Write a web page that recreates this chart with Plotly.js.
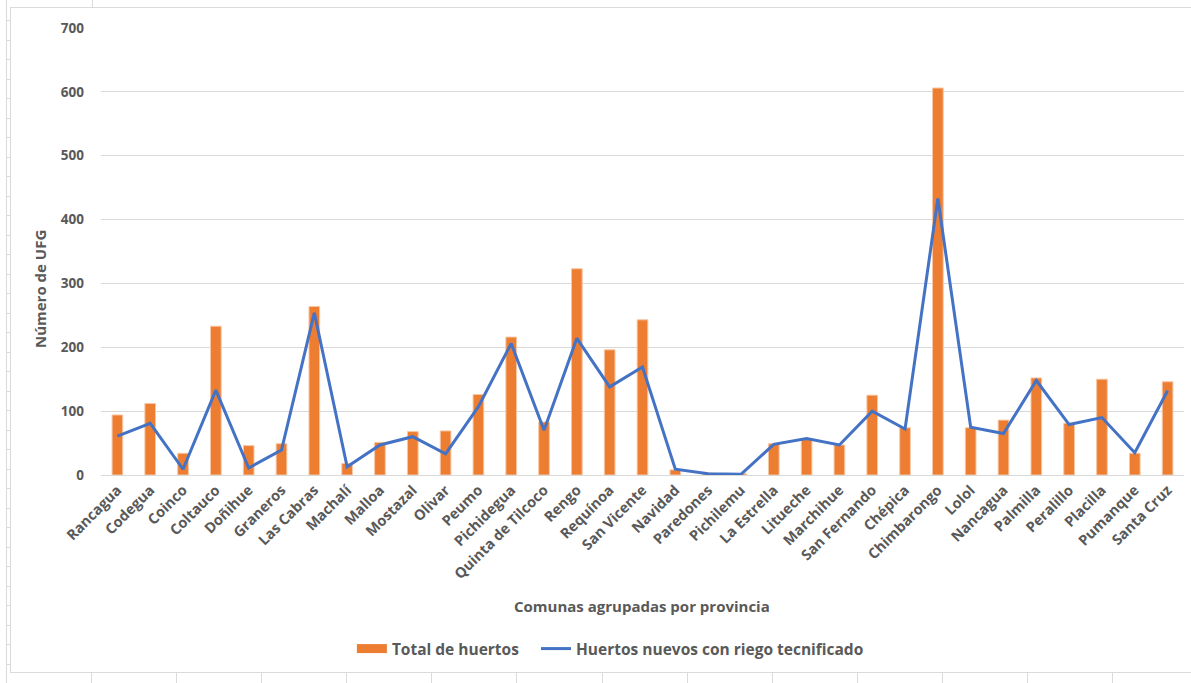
<!DOCTYPE html>
<html>
<head>
<meta charset="utf-8">
<script src="https://cdn.plot.ly/plotly-3.0.1.min.js"></script>
<style>
  html, body { margin: 0; padding: 0; background: #ffffff; }
  #wrap { position: relative; width: 1191px; height: 683px; overflow: hidden; }
  #chart { position: absolute; left: 0; top: 0; width: 1191px; height: 683px; }
  .sheet { position: absolute; background: #DADADA; }
</style>
</head>
<body>
<div id="wrap">
  <div id="sheet"></div>
  <div id="chart"></div>
</div>
<script>
// ---- data ----
const comunas = ["Rancagua","Codegua","Coinco","Coltauco","Doñihue","Graneros","Las Cabras","Machalí","Malloa","Mostazal","Olivar","Peumo","Pichidegua","Quinta de Tilcoco","Rengo","Requínoa","San Vicente","Navidad","Paredones","Pichilemu","La Estrella","Litueche","Marchihue","San Fernando","Chépica","Chimbarongo","Lolol","Nancagua","Palmilla","Peralillo","Placilla","Pumanque","Santa Cruz"];
const totalHuertos = [94,112,34,233,46,49,264,18,51,68,69,126,216,83,323,196,243,8,3,2,49,56,47,125,74,606,74,86,152,81,150,34,146];
const huertosNuevos = [61,81,9,133,11,39,254,13,47,60,33,107,206,70,214,138,169,9,2,1,48,57,47,100,72,433,75,65,148,79,90,35,132];
const yTicks = [0,100,200,300,400,500,600,700];

// ---- spreadsheet background (decoration) ----
const sheet = document.getElementById('sheet');
function addDiv(l,t,w,h){ const d=document.createElement('div'); d.className='sheet'; d.style.left=l+'px'; d.style.top=t+'px'; d.style.width=w+'px'; d.style.height=h+'px'; sheet.appendChild(d); }
addDiv(10,7,1181,1); addDiv(10,672,1181,1); addDiv(10,7,1,666);
addDiv(6,0,1,683);
for (let y=20; y<683; y+=19.5) addDiv(6,Math.round(y),4,1);
addDiv(92,0,1,7);
[91,176,261,346,431,516,602,687,772,857,942,1027,1112].forEach(x=>addDiv(x,673,1,10));

// ---- chart ----
const FONT = "'Open Sans', 'DejaVu Sans', sans-serif";
const GRAY = '#595959';
const ORANGE = '#ED7D31', BLUE = '#4472C4';
const L = 101, R = 6.5, T = 28, B = 208;
const W = 1191 - L - R, H = 683 - T - B;

const traces = [
  { type:'bar', name:'Total de huertos', x: comunas, y: totalHuertos, showlegend:false,
    marker:{ color:ORANGE, line:{ color:'#F7C6A3', width:1 } } },
  // legend entry for the bars (rectangular key as in the original)
  { type:'scatter', mode:'lines', name:'Total de huertos\u00a0\u00a0\u00a0', x:[null], y:[null],
    line:{ color:ORANGE, width:9 }, hoverinfo:'skip' },
  { type:'scatter', mode:'lines', name:'Huertos nuevos con riego tecnificado', x: comunas, y: huertosNuevos,
    line:{ color:BLUE, width:3 } }
];

const layout = {
  width:1191, height:683,
  margin:{ l:L, r:R, t:T, b:B },
  paper_bgcolor:'rgba(0,0,0,0)', plot_bgcolor:'rgba(0,0,0,0)',
  bargap:0.675,
  showlegend:true,
  font:{ family:FONT, color:GRAY, size:13, weight:700 },
  xaxis:{
    type:'category', tickangle:-45, automargin:false,
    tickfont:{ family:FONT, size:14.5, color:GRAY, weight:700 },
    showgrid:false, showline:true, linecolor:'#D9D9D9', linewidth:1,
    ticks:'', zeroline:false
  },
  yaxis:{
    range:[0,700], tickvals:yTicks, automargin:false,
    tickfont:{ family:FONT, size:13.5, color:GRAY, weight:700 },
    showgrid:true, gridcolor:'#D9D9D9', gridwidth:1,
    zeroline:true, zerolinecolor:'#D9D9D9', zerolinewidth:1,
    showline:false, ticks:'', ticklabelstandoff:16
  },
  legend:{
    orientation:'h', x:(352-L)/W, xanchor:'left', y:(475-649)/H, yanchor:'middle',
    font:{ family:FONT, size:15.5, color:GRAY, weight:700 },
    bgcolor:'rgba(0,0,0,0)', traceorder:'normal'
  },
  annotations:[
    { xref:'paper', yref:'paper', x:(642-L)/W, y:(475-606)/H, xanchor:'center', yanchor:'middle',
      text:'Comunas agrupadas por provincia', showarrow:false,
      font:{ family:FONT, size:15, color:GRAY, weight:700 } },
    { xref:'paper', yref:'paper', x:(40-L)/W, y:(475-289)/H, xanchor:'center', yanchor:'middle',
      text:'Número de UFG', textangle:-90, showarrow:false,
      font:{ family:FONT, size:15, color:GRAY, weight:700 } }
  ]
};

Plotly.newPlot('chart', traces, layout, { displayModeBar:false, staticPlot:true });
</script>
</body>
</html>
